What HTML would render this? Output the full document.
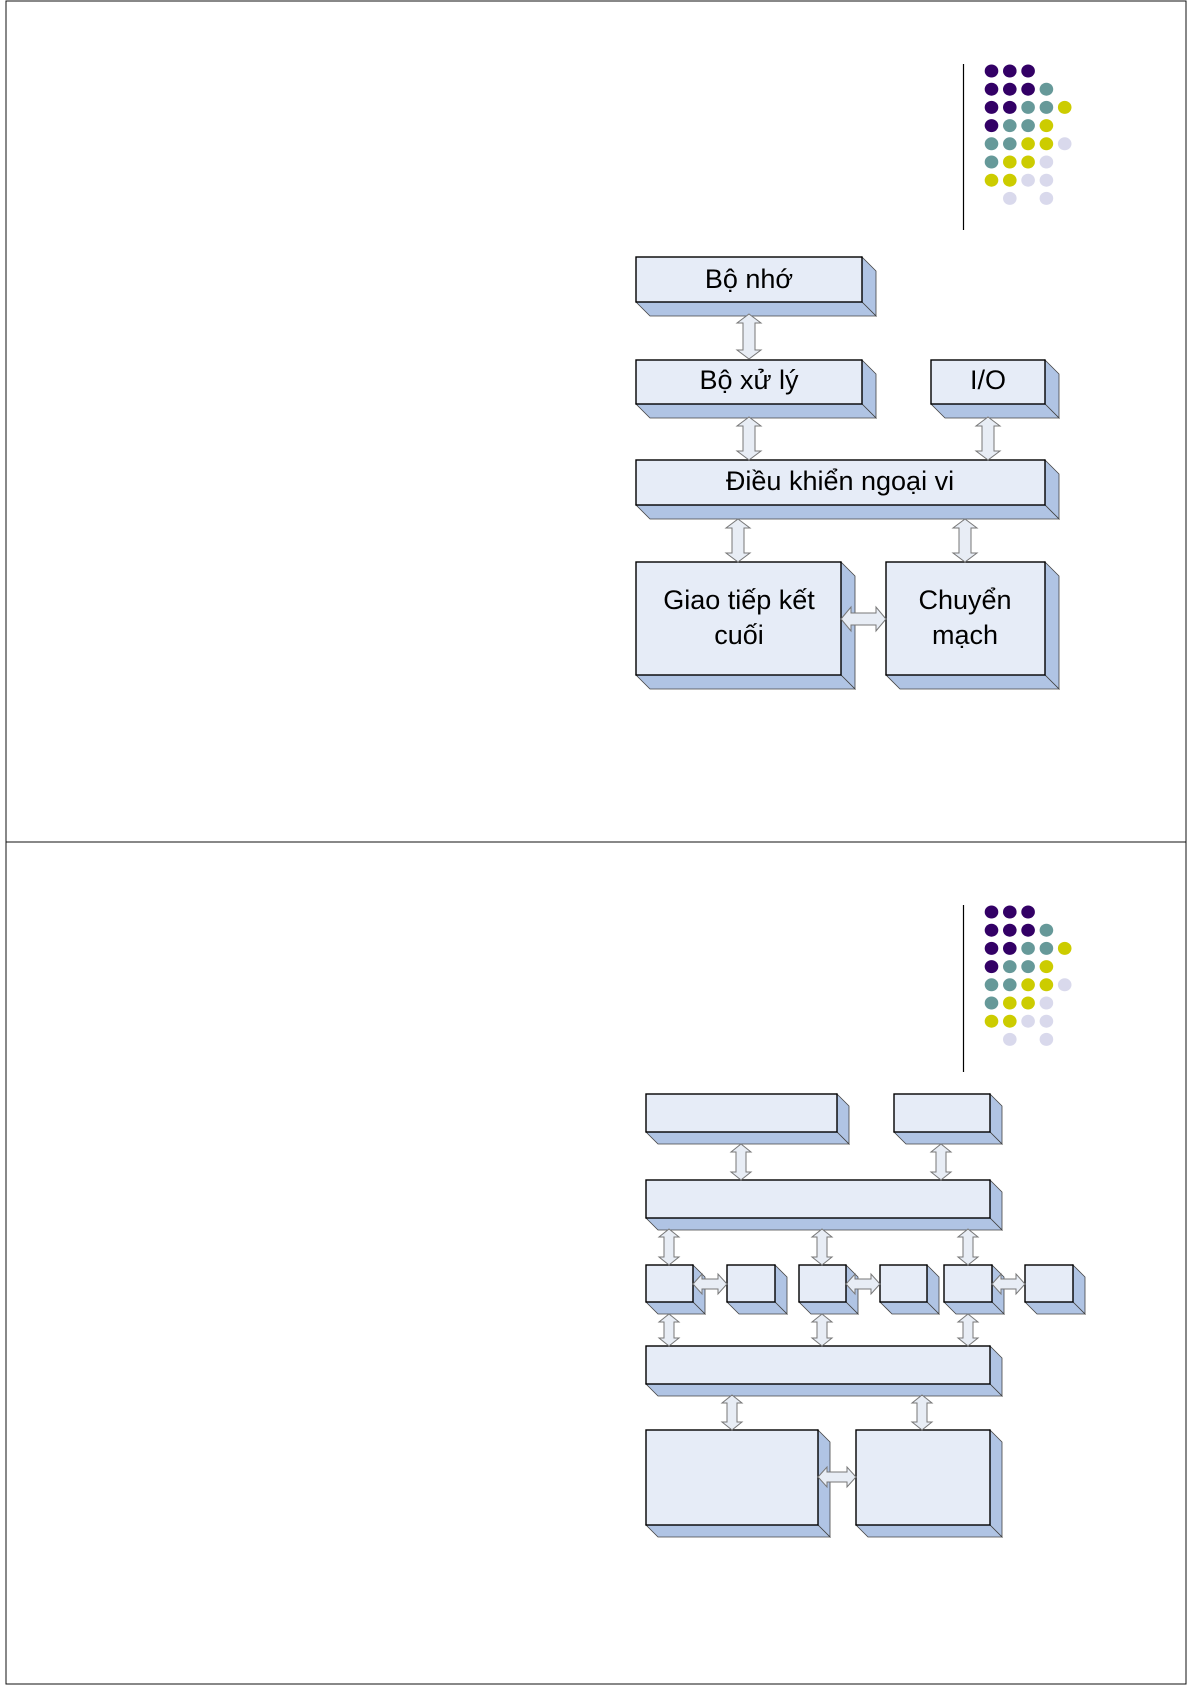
<!DOCTYPE html>
<html><head><meta charset="utf-8"><style>
html,body{margin:0;padding:0;background:#fff;}
svg{display:block;}
text{font-family:"Liberation Sans",Arial,sans-serif;font-size:27px;fill:#000;text-anchor:middle;}
</style></head><body>
<svg id="s" width="1191" height="1685" xmlns="http://www.w3.org/2000/svg">
<rect x="6" y="1" width="1180" height="841" fill="none" stroke="#111" stroke-width="1"/>
<rect x="6" y="842" width="1180" height="842" fill="none" stroke="#111" stroke-width="1"/>
<g transform="translate(-2.5,0)">
<line x1="966" y1="64" x2="966" y2="230" stroke="#000" stroke-width="1.2"/>
<line x1="966" y1="905" x2="966" y2="1072" stroke="#000" stroke-width="1.2"/>
<g id="dots"></g>
</g>
<g transform="translate(-1,0)">
<g id="shapes"></g>
<text x="750" y="288">Bộ nhớ</text>
<text x="750" y="389">Bộ xử lý</text>
<text x="989" y="389">I/O</text>
<text x="841" y="490">Điều khiển ngoại vi</text>
<text x="740" y="609">Giao tiếp kết</text>
<text x="740" y="644">cuối</text>
<text x="966" y="609">Chuyển</text>
<text x="966" y="644">mạch</text>
</g>
</svg>
<script>
var h='';
function box(x1,y1,x2,y2,d){
 h+='<polygon points="'+x2+','+y1+' '+(x2+d)+','+(y1+d)+' '+(x2+d)+','+(y2+d)+' '+x2+','+y2+'" fill="#b0c4e4" stroke="#444" stroke-width="0.8"/>';
 h+='<polygon points="'+x1+','+y2+' '+x2+','+y2+' '+(x2+d)+','+(y2+d)+' '+(x1+d)+','+(y2+d)+'" fill="#b0c4e4" stroke="#444" stroke-width="0.8"/>';
 h+='<rect x="'+x1+'" y="'+y1+'" width="'+(x2-x1)+'" height="'+(y2-y1)+'" fill="#e6ecf7" stroke="#000" stroke-width="1.4"/>';
}
function va(cx,y1,y2,w,s,k){
 var p=[[cx,y1],[cx+w/2,y1+k],[cx+s/2,y1+k],[cx+s/2,y2-k],[cx+w/2,y2-k],[cx,y2],[cx-w/2,y2-k],[cx-s/2,y2-k],[cx-s/2,y1+k],[cx-w/2,y1+k]];
 h+='<polygon points="'+p.map(function(a){return a.join(',')}).join(' ')+'" fill="#e8edf5" stroke="#777" stroke-width="1"/>';
}
function ha(cy,x1,x2,w,s,k){
 var p=[[x1,cy],[x1+k,cy-w/2],[x1+k,cy-s/2],[x2-k,cy-s/2],[x2-k,cy-w/2],[x2,cy],[x2-k,cy+w/2],[x2-k,cy+s/2],[x1+k,cy+s/2],[x1+k,cy+w/2]];
 h+='<polygon points="'+p.map(function(a){return a.join(',')}).join(' ')+'" fill="#e8edf5" stroke="#777" stroke-width="1"/>';
}
box(637,257,863,302,14);
box(637,360,863,404,14);
box(932,360,1046,404,14);
box(637,460,1046,505,14);
box(637,562,842,675,14);
box(887,562,1046,675,14);
va(750,314,359,24,12,9);
va(750,417,460,24,12,9);
va(989,417,460,24,12,9);
va(739,519,562,24,12,9);
va(966,519,562,24,12,9);
ha(619,842,887,24,12,10);
var d=12;
box(647,1094,838,1132,d);
box(895,1094,991,1132,d);
box(647,1180,991,1218,d);
[[647,694],[728,776],[800,847],[881,928],[945,993],[1026,1074]].forEach(function(b){box(b[0],1265,b[1],1302,d);});
box(647,1346,991,1384,d);
box(647,1430,819,1525,d);
box(857,1430,991,1525,d);
va(742,1144,1180,20,10,8);
va(942,1144,1180,20,10,8);
[670,823,969].forEach(function(x){va(x,1229,1265,20,10,8);va(x,1314,1346,20,10,8);});
ha(1284,694,728,20,10,9);
ha(1284,847,881,20,10,9);
ha(1284,993,1026,20,10,9);
va(733,1395,1430,20,10,8);
va(923,1395,1430,20,10,8);
ha(1477,819,857,20,10,9);
document.getElementById('shapes').innerHTML=h;
h='';
var P='#330066',T='#669999',Y='#cccc00',L='#d9d9ec';
var rows=[[P,P,P],[P,P,P,T],[P,P,T,T,Y],[P,T,T,Y],[T,T,Y,Y,L],[T,Y,Y,L],[Y,Y,L,L],[0,L,0,L]];
[0,841].forEach(function(off){
 rows.forEach(function(r,i){r.forEach(function(c,j){if(c)h+='<ellipse cx="'+(994+j*18.3)+'" cy="'+(71+i*18.2+off)+'" rx="6.8" ry="6.5" fill="'+c+'"/>';});});
});
document.getElementById('dots').innerHTML=h;
</script>
</body></html>
